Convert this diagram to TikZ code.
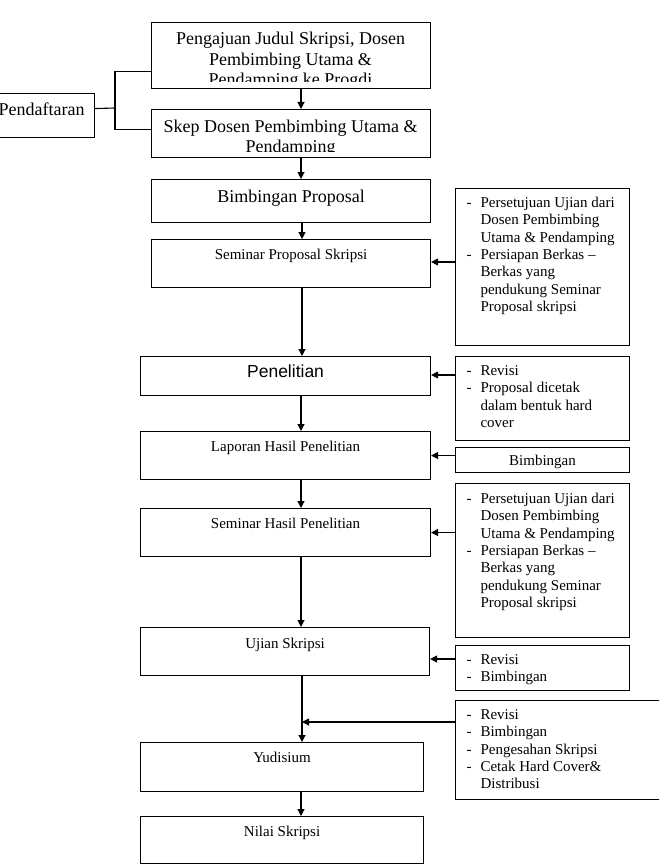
\documentclass[tikz,border=0pt]{standalone}
\usepackage{fontspec}
\setmainfont{Liberation Serif}
\newfontfamily\arial{Liberation Sans}
\usetikzlibrary{arrows.meta}
\newcommand{\besar}{\fontsize{18}{20.3}\selectfont}
\newcommand{\kecil}{\fontsize{15}{17.3}\selectfont}
\tikzset{
  kotak/.style={draw, anchor=north west, inner sep=0pt, font=\kecil},
  isi/.style={anchor=north west, inner sep=0pt, font=\kecil, align=left},
}

\begin{document}
\begin{tikzpicture}[x=1pt,y=-1pt,line width=1.1pt,>={Triangle[length=7pt,width=7pt]}]
    \useasboundingbox (0,0) rectangle (659,864);
    \clip (0,0) rectangle (659,864);

    % alur utama
    \node[kotak, minimum width=279pt, minimum height=66pt] (judul) at (151,22) {};
    \begin{scope}
      \clip (151,22) rectangle (430,82);
      \node[anchor=base, inner sep=0pt, font=\besar] (judulteks) at (290.5,45)
        {\begin{tabular}[t]{@{}c@{}}Pengajuan Judul Skripsi, Dosen\\ Pembimbing Utama \&\\ Pendamping ke Progdi\end{tabular}};
    \end{scope}
    \node[kotak, minimum width=279pt, minimum height=48pt] (skep) at (151,109) {};
    \begin{scope}
      \clip (151,109) rectangle (430,151);
      \node[anchor=base, inner sep=0pt, font=\besar] (skepteks) at (290.5,132)
        {\begin{tabular}[t]{@{}c@{}}Skep Dosen Pembimbing Utama \&\\ Pendamping\end{tabular}};
    \end{scope}
    \node[kotak, minimum width=279pt, text height=23pt, text depth=20pt, font=\besar] (bimbingan) at (151,179) {Bimbingan Proposal};
    \node[kotak, minimum width=279pt, text height=20pt, text depth=28pt] (sempro) at (151,239) {Seminar Proposal Skripsi};
    \node[kotak, minimum width=290pt, text height=21pt, text depth=18pt, font={\arial\fontsize{17.5}{20}\selectfont}] (penelitian) at (140,356) {Penelitian};
    \node[kotak, minimum width=290pt, text height=20pt, text depth=28pt] (laporan) at (140,431) {Laporan Hasil Penelitian};
    \node[kotak, minimum width=290pt, text height=20pt, text depth=28pt] (semhas) at (140,508) {Seminar Hasil Penelitian};
    \node[kotak, minimum width=289pt, text height=21pt, text depth=27pt] (ujian) at (140,627) {Ujian Skripsi};
    \node[kotak, minimum width=283pt, text height=20pt, text depth=29pt] (yudisium) at (140,742) {Yudisium};
    \node[kotak, minimum width=283pt, text height=20pt, text depth=27pt] (nilai) at (140,816) {Nilai Skripsi};
    \node[kotak, minimum width=106pt, text height=22pt, text depth=22pt, font=\besar] (pendaftaran) at (-12,93) {Pendaftaran};

    % kotak syarat
    \node[kotak, minimum width=174pt, minimum height=157pt] (syarat1) at (455,188) {};
    \node[isi] (syaratteks1) at (466,195) {\begin{tabular}{@{}l@{\hspace{9pt}}l@{}}
      - & Persetujuan Ujian dari\\ & Dosen Pembimbing\\ & Utama \& Pendamping\\
      - & Persiapan Berkas \textendash\\ & Berkas yang\\ & pendukung Seminar\\ & Proposal skripsi\end{tabular}};
    \node[kotak, minimum width=174pt, minimum height=84pt] (syarat2) at (455,356) {};
    \node[isi] (syaratteks2) at (466,363) {\begin{tabular}{@{}l@{\hspace{9pt}}l@{}}
      - & Revisi\\ - & Proposal dicetak\\ & dalam bentuk hard\\ & cover\end{tabular}};
    \node[kotak, minimum width=174pt, text height=18pt, text depth=7pt] (syarat3) at (455,447) {Bimbingan};
    \node[kotak, minimum width=174pt, minimum height=154pt] (syarat4) at (455,483) {};
    \node[isi] (syaratteks4) at (466,491) {\begin{tabular}{@{}l@{\hspace{9pt}}l@{}}
      - & Persetujuan Ujian dari\\ & Dosen Pembimbing\\ & Utama \& Pendamping\\
      - & Persiapan Berkas \textendash\\ & Berkas yang\\ & pendukung Seminar\\ & Proposal skripsi\end{tabular}};
    \node[kotak, minimum width=174pt, minimum height=45pt] (syarat5) at (455,645) {};
    \node[isi] (syaratteks5) at (466,652) {\begin{tabular}{@{}l@{\hspace{9pt}}l@{}}
      - & Revisi\\ - & Bimbingan\end{tabular}};
    \node[kotak, minimum width=215pt, minimum height=99pt] (syarat6) at (455,700) {};
    \node[isi] (syaratteks6) at (466,707) {\begin{tabular}{@{}l@{\hspace{9pt}}l@{}}
      - & Revisi\\ - & Bimbingan\\ - & Pengesahan Skripsi\\ - & Cetak Hard Cover\&\\ & Distribusi\end{tabular}};

    % percabangan pendaftaran
    \coordinate (cabang) at (115,108);
    \draw ([yshift=7pt]pendaftaran.east) -- (cabang);
    \draw ([yshift=-16pt]judul.west) -| (cabang);
    \draw ([yshift=4pt]skep.west) -| (cabang);

    % panah alur
    \draw [->] (judul.south -| 301,0) -- (skep.north -| 301,0);
    \draw [->] (skep.south -| 301,0) -- (bimbingan.north -| 301,0);
    \draw [->] (bimbingan.south -| 302,0) -- (sempro.north -| 302,0);
    \draw [->] (sempro.south -| 302,0) -- (penelitian.north -| 302,0);
    \draw [->] (penelitian.south -| 301,0) -- (laporan.north -| 301,0);
    \draw [->] (laporan.south -| 301,0) -- (semhas.north -| 301,0);
    \draw [->] (semhas.south -| 301,0) -- (ujian.north -| 301,0);
    \draw [->] (ujian.south -| 302,0) -- (yudisium.north -| 302,0);
    \draw [->] (yudisium.south -| 301,0) -- (nilai.north -| 301,0);

    % panah syarat
    \draw [->] (syarat1.west |- 0,262) -- (sempro.east |- 0,262);
    \draw [->] (syarat2.west |- 0,375) -- (penelitian.east |- 0,375);
    \draw [->] (syarat3.west |- laporan.east) -- (laporan.east);
    \draw [->] (syarat4.west |- semhas.east) -- (semhas.east);
    \draw [->] (syarat5.west |- 0,659) -- (ujian.east |- 0,659);
    \coordinate (gabung) at (302,722);
    \draw [->] (syarat6.west |- gabung) -- (gabung);
\end{tikzpicture}
\end{document}
